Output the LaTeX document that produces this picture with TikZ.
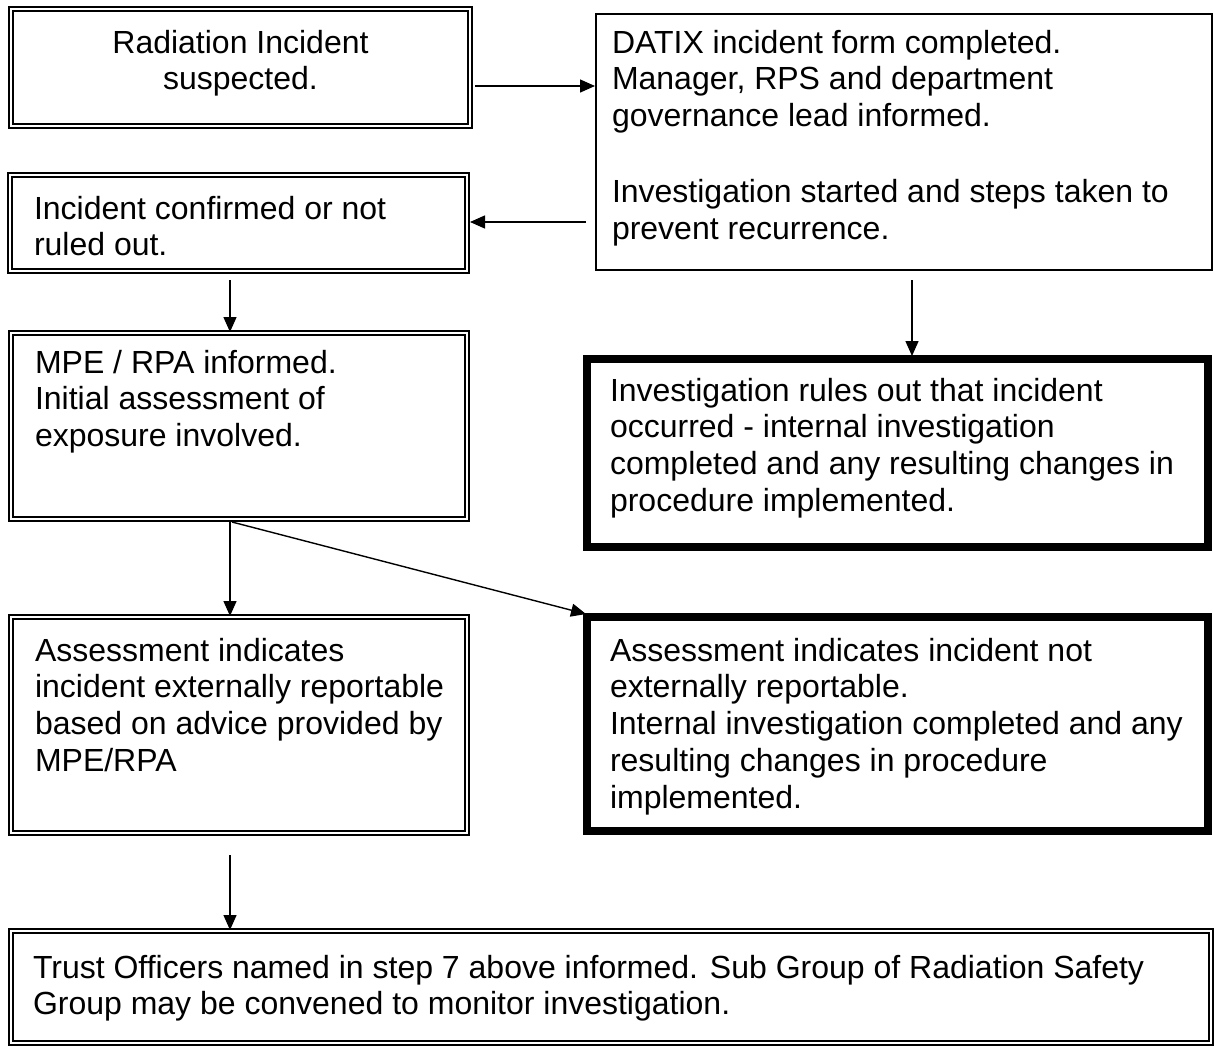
\documentclass[tikz,border=0pt]{standalone}
\usepackage{fontspec}
\setmainfont{Liberation Sans}
\usetikzlibrary{arrows.meta,calc}
\begin{document}
\begin{tikzpicture}[x=1pt,y=-1pt,
  every node/.style={font=\fontsize{32}{36.8}\selectfont},
  base/.style={anchor=north west, inner ysep=0pt, outer sep=0pt},
  dbl/.style={base, draw, double, line width=2pt, double distance=1.5pt},
  sgl/.style={base, draw, line width=1.5pt},
  thk/.style={base, draw, line width=7.5pt},
  arr/.style={line width=1.4pt, -{Triangle[length=15pt,width=13pt]}}]
\useasboundingbox (0,0) rectangle (1214,1050);
\fill[white] (0,0) rectangle (1214,1050);

\node[dbl, inner xsep=0pt] (b1) at (11,9)
  {\parbox[t][117pt][t]{459pt}{\centering\rule{0pt}{44pt}Radiation Incident\\suspected.}};
\node[sgl, inner xsep=16pt] (b2) at (596,14)
  {\parbox[t][256pt][t]{584pt}{\raggedright\rule{0pt}{39pt}\mbox{DATIX incident form completed.}\\\mbox{Manager, RPS and department}\\\mbox{governance lead informed.}\\[39pt]\mbox{Investigation started and steps taken to}\\\mbox{prevent recurrence.}}};
\node[dbl, inner xsep=24pt] (b3) at (10,175)
  {\parbox[t][96pt][t]{409pt}{\raggedright\rule{0pt}{44pt}\mbox{Incident confirmed or not}\\\mbox{ruled out.}}};
\node[dbl, inner xsep=24pt] (b4) at (11,333)
  {\parbox[t][186pt][t]{408pt}{\raggedright\rule{0pt}{40pt}\mbox{MPE / RPA informed.}\\\mbox{Initial assessment of}\\\mbox{exposure involved.}}};
\node[thk, inner xsep=23pt] (b5) at (587,359)
  {\parbox[t][188pt][t]{575pt}{\raggedright\rule{0pt}{42pt}\mbox{Investigation rules out that incident}\\\mbox{occurred - internal investigation}\\\mbox{completed and any resulting changes in}\\\mbox{procedure implemented.}}};
\node[dbl, inner xsep=24pt] (b6) at (11,617)
  {\parbox[t][216pt][t]{408pt}{\raggedright\rule{0pt}{44pt}\mbox{Assessment indicates}\\\mbox{incident externally reportable}\\\mbox{based on advice provided by}\\\mbox{MPE/RPA}}};
\node[thk, inner xsep=23pt] (b7) at (587,617)
  {\parbox[t][214pt][t]{575pt}{\raggedright\rule{0pt}{44pt}\mbox{Assessment indicates incident not}\\\mbox{externally reportable.}\\\mbox{Internal investigation completed and any}\\\mbox{resulting changes in procedure}\\\mbox{implemented.}}};
\node[dbl, inner xsep=22pt] (b8) at (11,931)
  {\parbox[t][112pt][t]{1156pt}{\raggedright\rule{0pt}{47pt}\mbox{Trust Officers named in step 7 above informed. Sub Group of Radiation Safety}\\\mbox{Group may be convened to monitor investigation.}}};

\coordinate (y1) at (0,86);
\coordinate (y2) at (0,222);
\coordinate (x3) at (230,0);
\coordinate (x4) at (912,0);
\coordinate (s3) at (230,280);
\coordinate (s4) at (912,280);
\coordinate (s7) at (230,855);
\coordinate (d6) at (232,522);

\draw[arr] ([xshift=5pt]b1.east |- y1) -- ([xshift=-1pt]b2.west |- y1);
\draw[arr] ([xshift=-10pt]b2.west |- y2) -- ([xshift=3pt]b3.east |- y2);
\draw[arr] (s3) -- ([yshift=1pt]b4.north -| s3);
\draw[arr] (s4) -- ([yshift=3pt]b5.north -| s4);
\draw[arr] ([yshift=-2pt]b4.south -| x3) -- ([yshift=1pt]b6.north -| x3);
\draw[arr] (d6) -- ([xshift=-1pt,yshift=3pt]b7.north west);
\draw[arr] (s7) -- ([yshift=1pt]b8.north -| s7);
\end{tikzpicture}
\end{document}
